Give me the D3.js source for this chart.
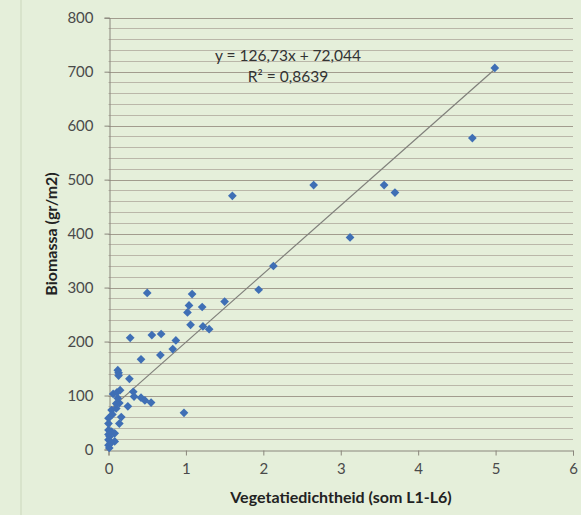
<!DOCTYPE html>
<html>
<head>
<meta charset="utf-8">
<script src="https://cdn.jsdelivr.net/npm/d3@7"></script>
<style>
  body { margin: 0; background: #e5efda; }
  text { font-family: Lato, "Open Sans", sans-serif; }
</style>
</head>
<body>
<div id="container"></div>
<script>
/* DATA */
const xValues = [4.99, 4.70, 2.65, 3.56, 3.70, 1.60, 3.12, 2.13, 1.94, 0.50,
  1.08, 1.50, 1.04, 1.21, 1.02, 1.06, 1.22, 1.30, 0.28, 0.56,
  0.68, 0.87, 0.83, 0.67, 0.42, 0.12, 0.13, 0.13, 0.27, 0.06,
  0.11, 0.15, 0.32, 0.33, 0.42, 0.47, 0.55, 0.25, 0.14, 0.10,
  0.04, 0.975, 0.165, 0.14, 0.0, 0.0, 0.0, 0.04, 0.08, 0.015,
  0.08, 0.0, 0.0, 0.01, 0.12, 0.10, 0.05, 0.0, 0.03];
const yValues = [707, 577, 490, 490, 476, 470, 393, 340, 296, 290,
  288, 274, 267, 264, 254, 231, 228, 223, 207, 212,
  214, 202, 186, 175, 167, 147, 142, 137, 131, 103,
  106, 110, 107, 98, 96, 91, 87, 80, 86, 76,
  73, 68, 60, 48, 58, 48, 36, 33, 30, 24,
  15, 18, 8, 3, 95, 85, 65, 28, 12];
const xTicks = [0, 1, 2, 3, 4, 5, 6];
const yTicks = [0, 100, 200, 300, 400, 500, 600, 700, 800];
const slope = 126.73, intercept = 72.044;
const eqLabel = "y = 126,73x + 72,044";
const r2Label = "R² = 0,8639";
const xTitle = "Vegetatiedichtheid (som L1-L6)";
const yTitle = "Biomassa (gr/m2)";

const width = 581, height = 515;
const data = xValues.map((x, i) => ({ x: x, y: yValues[i] }));

const svg = d3.select("#container").append("svg")
  .attr("width", width).attr("height", height);

svg.append("rect").attr("width", width).attr("height", height).attr("fill", "#e5efda");
svg.append("line").attr("x1", 21).attr("x2", 21).attr("y1", 0).attr("y2", height)
  .attr("stroke", "#d3dfc6").attr("stroke-width", 1.5);

const xScale = d3.scaleLinear().domain([0, 6]).range([108.5, 573]);
const yScale = d3.scaleLinear().domain([0, 800]).range([449.5, 17.7]);

// gridlines every 20, darker at every 100
const gridVals = d3.range(20, 801, 20);
svg.append("g").selectAll("line")
  .data(gridVals)
  .join("line")
  .attr("x1", xScale(0)).attr("x2", xScale(6))
  .attr("y1", d => Math.round(yScale(d)) + 0.5)
  .attr("y2", d => Math.round(yScale(d)) + 0.5)
  .attr("stroke", d => d % 100 === 0 ? "#a29c8e" : "#bab7a9")
  .attr("stroke-width", 1);

// axes
const xAxis = d3.axisBottom(xScale).tickValues(xTicks).tickSize(5).tickPadding(8)
  .tickFormat(d3.format("d"));
const yAxis = d3.axisLeft(yScale).tickValues(yTicks).tickSize(5).tickPadding(11)
  .tickFormat(d3.format("d"));

const gx = svg.append("g")
  .attr("transform", `translate(0, ${Math.round(yScale(0)) + 0.5})`)
  .call(xAxis);
const gy = svg.append("g")
  .attr("transform", `translate(${Math.round(xScale(0)) + 0.5}, 0)`)
  .call(yAxis);

[gx, gy].forEach(g => {
  g.select(".domain").attr("stroke", "#8a867c");
  g.selectAll(".tick line").attr("stroke", "#8a867c");
  g.selectAll(".tick text").attr("fill", "#4a4a4a").attr("font-size", 15)
    .attr("font-family", "Lato, sans-serif");
});

// trendline
const xExt = d3.extent(xValues);
svg.append("line")
  .attr("x1", xScale(xExt[0])).attr("y1", yScale(slope * xExt[0] + intercept))
  .attr("x2", xScale(xExt[1])).attr("y2", yScale(slope * xExt[1] + intercept))
  .attr("stroke", "#7f7f7a").attr("stroke-width", 1.2);

// points
const diamond = d3.symbol().type(d3.symbolSquare).size(38);
svg.append("g").selectAll("path")
  .data(data)
  .join("path")
  .attr("d", diamond)
  .attr("transform", d => `translate(${xScale(d.x)}, ${yScale(d.y)}) rotate(45)`)
  .attr("fill", "#3f6fb5");

// equation
svg.append("text").attr("x", 288).attr("y", 61).attr("text-anchor", "middle")
  .attr("font-size", 15.5).attr("fill", "#333").text(eqLabel);
svg.append("text").attr("x", 288).attr("y", 82).attr("text-anchor", "middle")
  .attr("font-size", 15.5).attr("fill", "#333").text(r2Label);

// titles
svg.append("text").attr("x", 341).attr("y", 503).attr("text-anchor", "middle")
  .attr("font-size", 16).attr("font-weight", "bold").attr("fill", "#222").text(xTitle);
svg.append("text").attr("transform", "translate(57, 234) rotate(-90)")
  .attr("text-anchor", "middle")
  .attr("font-size", 16).attr("font-weight", "bold").attr("fill", "#222").text(yTitle);
</script>
</body>
</html>
